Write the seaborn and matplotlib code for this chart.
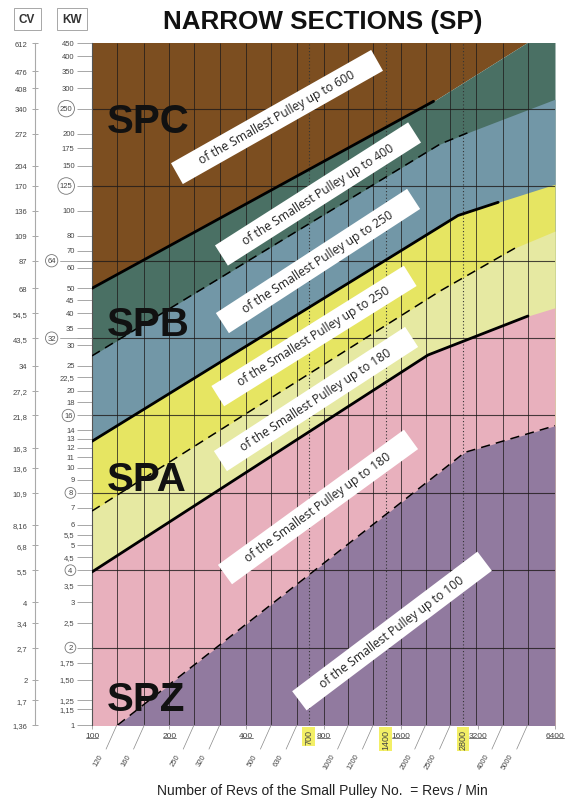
import numpy as np
import pandas as pd
import matplotlib
matplotlib.use("Agg")
import matplotlib.pyplot as plt
from matplotlib.patches import Rectangle
from matplotlib.transforms import Affine2D
from matplotlib.ticker import NullLocator
import seaborn as sns

sns.set_theme(style="white")
plt.rcParams["font.family"] = ["Liberation Sans", "DejaVu Sans"]

# ---- data (rpm of small pulley, kW) ----
# each boundary: points of the colour edge, n_line = points covered by the drawn line
spc_rpm = [100, 2150, 4950, 6400]
spc_kw = [50, 267, 450, 525]
spc_line = 2

spb_small_rpm = [100, 2280, 2980, 6400]
spb_small_kw = [27.3, 182, 203, 272]
spb_small_line = 3

spb_rpm = [100, 2680, 3840, 6400]
spb_kw = [12.7, 96, 108, 127]
spb_line = 3

spa_small_rpm = [100, 2280, 4550, 6400]
spa_small_kw = [6.8, 48.8, 72.4, 83.5]
spa_small_line = 3

spa_rpm = [100, 2045, 5020, 6400]
spa_kw = [3.94, 27.5, 39, 42]
spa_line = 3

spz_rpm = [100, 126, 2850, 6400]
spz_kw = [0.83, 1.0, 11.5, 14.6]
spz_line = 4

x_major = [100, 200, 400, 800, 1600, 3200, 6400]
x_grid = [100, 125, 160, 200, 250, 315, 400, 500, 630, 800, 1000, 1250,
          1600, 2000, 2500, 3150, 4000, 5000, 6400]
x_diag_pos = [125, 160, 250, 315, 500, 630, 1000, 1250, 2000, 2500, 4000, 5000]
x_diag_lab = ["120", "160", "250", "320", "500", "630", "1000", "1200",
              "2000", "2500", "4000", "5000"]
x_marked = [700, 1400, 2800]

kw_ticks = [450, 400, 350, 300, 250, 200, 175, 150, 125, 100, 80, 70, 64, 60,
            50, 45, 40, 35, 32, 30, 25, 22.5, 20, 18, 16, 14, 13, 12, 11, 10,
            9, 8, 7, 6, 5.5, 5, 4.5, 4, 3.5, 3, 2.5, 2, 1.75, 1.5, 1.25, 1.15, 1]
kw_labels = ["450", "400", "350", "300", "250", "200", "175", "150", "125",
             "100", "80", "70", "64", "60", "50", "45", "40", "35", "32", "30",
             "25", "22,5", "20", "18", "16", "14", "13", "12", "11", "10", "9",
             "8", "7", "6", "5,5", "5", "4,5", "4", "3,5", "3", "2,5", "2",
             "1,75", "1,50", "1,25", "1,15", "1"]
kw_circled = [250, 125, 16, 8, 4, 2]
kw_circled_far = [64, 32]
kw_grid = [2, 4, 8, 16, 32, 64, 125, 250]

cv_at_kw = [450, 350, 300, 250, 200, 150, 125, 100, 80, 64, 50, 40, 32, 25,
            20, 16, 12, 10, 8, 6, 5, 4, 3, 2.5, 2, 1.5, 1.25, 1]
cv_labels = ["612", "476", "408", "340", "272", "204", "170", "136", "109",
             "87", "68", "54,5", "43,5", "34", "27,2", "21,8", "16,3", "13,6",
             "10,9", "8,16", "6,8", "5,5", "4", "3,4", "2,7", "2", "1,7", "1,36"]

band_texts = ["of the Smallest Pulley up to 600", "of the Smallest Pulley up to 400",
              "of the Smallest Pulley up to 250", "of the Smallest Pulley up to 250",
              "of the Smallest Pulley up to 180", "of the Smallest Pulley up to 180",
              "of the Smallest Pulley up to 100"]
# centre (image px), angle, length
band_boxes = [(277, 118, 29.5, 230), (318, 195, 32.5, 229), (318, 262, 33, 228),
              (314, 337, 32, 227), (316, 400, 33, 228), (318, 508, 36, 230),
              (392, 632, 37, 232)]

sections = ["SPC", "SPB", "SPA", "SPZ"]
section_y = [122, 325, 480, 700]

colors = ["#7c4e20", "#4a7064", "#7297a7", "#e6e562", "#e6e9a2", "#e8b0bd", "#917a9f"]

W, H = 580, 804
fig = plt.figure(figsize=(W / 100, H / 100), dpi=100)
ax = fig.add_axes([92 / W, 1 - 726 / H, (555 - 92) / W, (726 - 44) / H])
ax.set_xscale("log")
ax.set_yscale("log")
ax.set_xlim(100, 6400)
ax.set_ylim(1, 450)

bounds = [(spc_rpm, spc_kw, spc_line, "-"),
          (spb_small_rpm, spb_small_kw, spb_small_line, "--"),
          (spb_rpm, spb_kw, spb_line, "-"),
          (spa_small_rpm, spa_small_kw, spa_small_line, "--"),
          (spa_rpm, spa_kw, spa_line, "-"),
          (spz_rpm, spz_kw, spz_line, "--")]

# colour bands, painted from top to bottom
ax.fill_between(spc_rpm, spc_kw, 2000, color=colors[0], lw=0, zorder=1)
for i, (xs, ys, n, ls) in enumerate(bounds):
    ax.fill_between(xs, 0.5, ys, color=colors[i + 1], lw=0, zorder=1)

# grid
ax.vlines(x_grid, 1, 450, colors="#1e1a1a", lw=0.7, alpha=0.75, zorder=2)
ax.vlines(x_marked, 1, 450, colors="#333333", lw=0.8, linestyles=(0, (1, 2)), zorder=2)
ax.hlines(kw_grid, 100, 6400, colors="#1e1a1a", lw=0.8, alpha=0.8, zorder=2)

# boundary lines
for xs, ys, n, ls in bounds:
    df = pd.DataFrame({"rpm": xs[:n], "kw": ys[:n]})
    if ls == "--":
        df = df[df["kw"] >= 1]
    sns.lineplot(data=df, x="rpm", y="kw", ax=ax, color="black", sort=False,
                 estimator=None, lw=2.0 if ls == "-" else 1.1, zorder=3)
    if ls == "--":
        ax.lines[-1].set_dashes([6, 4])

ax.set_xlabel("")
ax.set_ylabel("")
for s in ax.spines.values():
    s.set_visible(False)
ax.spines["left"].set_visible(True)
ax.spines["left"].set_color("#555555")
ax.spines["left"].set_linewidth(0.8)

# x ticks (underlined labels)
ax.set_xticks(x_major, [str(v) for v in x_major])
ax.xaxis.set_minor_locator(NullLocator())
ax.tick_params(axis="x", bottom=True, length=3, width=0.5, color="#888888",
               labelsize=6, labelcolor="#444444", pad=2)
xt = ax.get_xaxis_transform()
for v in x_major:
    f = 1.06 if v < 1000 else 1.08
    ax.plot([v / f, v * f], [-0.0195, -0.0195], transform=xt, clip_on=False,
            color="#444444", lw=0.5)

for v, lab in zip(x_diag_pos, x_diag_lab):
    ax.annotate(lab, xy=(v, 0), xycoords=xt, xytext=(-11, -21),
                textcoords="offset points", rotation=60, ha="right", va="center",
                rotation_mode="anchor", fontsize=5.5, color="#444444",
                arrowprops=dict(arrowstyle="-", color="#888888", lw=0.5,
                                relpos=(1, 1), shrinkA=0, shrinkB=0))
for v in x_marked:
    ax.annotate(str(v), xy=(v, 0), xycoords=xt, xytext=(0, -3),
                textcoords="offset points", rotation=90, ha="center", va="top",
                fontsize=6.5, color="#444444",
                bbox=dict(boxstyle="square,pad=0.2", fc="#f3ef66", ec="none"))

# KW axis
ax.set_yticks(kw_ticks, [""] * len(kw_ticks))
ax.yaxis.set_minor_locator(NullLocator())
ax.tick_params(axis="y", left=True, length=10.5, width=0.6, color="#999999")
yt = ax.get_yaxis_transform()
for v, lab in zip(kw_ticks, kw_labels):
    off = -12.5
    bb = None
    if v in kw_circled:
        bb = dict(boxstyle="circle,pad=0.25", fc="none", ec="#777777", lw=0.6)
        off = -14
    if v in kw_circled_far:
        bb = dict(boxstyle="circle,pad=0.25", fc="none", ec="#777777", lw=0.6)
        off = -26
        ax.plot([-32 / 463, 0], [v, v], transform=yt, clip_on=False,
                color="#999999", lw=0.6)
    ax.annotate(lab, xy=(0, v), xycoords=yt, xytext=(off, 0),
                textcoords="offset points", ha="right", va="center",
                fontsize=5.5, color="#444444", bbox=bb)

# CV axis
cax = fig.add_axes([35 / W, 1 - 726 / H, 0.0001, (726 - 44) / H])
cax.set_yscale("log")
cax.set_ylim(1, 450)
cax.set_xticks([])
for k, s in cax.spines.items():
    s.set_visible(k == "left")
cax.spines["left"].set_color("#aaaaaa")
cax.spines["left"].set_linewidth(0.8)
cax.set_yticks(cv_at_kw, cv_labels)
cax.yaxis.set_minor_locator(NullLocator())
cax.tick_params(axis="y", left=True, direction="inout", length=5, width=0.6,
                color="#999999", labelsize=5.5, labelcolor="#444444", pad=3)
cax.patch.set_visible(False)

# section names
for name, cy in zip(sections, section_y):
    ax.text(15 / 463, (726 - cy) / 682, name, transform=ax.transAxes,
            fontsize=29, weight="bold", color="#111111", ha="left",
            va="center", zorder=4)

# white labels along the bands
for txt, (cx, cy, ang, length) in zip(band_texts, band_boxes):
    X, Y = cx, H - cy
    rect = Rectangle((X - length / 2, Y - 12), length, 24, fc="white", ec="none",
                     transform=Affine2D().rotate_deg_around(X, Y, ang))
    fig.add_artist(rect)
    fig.text(X / W, Y / H, txt, rotation=ang, rotation_mode="anchor",
             ha="center", va="center", fontsize=8.7, color="#222222",
             family=["Open Sans", "DejaVu Sans"], zorder=5)

# headers
fig.text(323 / W, 1 - 22 / H, "NARROW SECTIONS (SP)", ha="center", va="center",
         fontsize=18.7, weight="bold", color="#111111")
for lab, cx in [("CV", 27), ("KW", 72)]:
    fig.text(cx / W, 1 - 20 / H, lab, ha="center", va="center", fontsize=8.5,
             weight="bold", color="#333333",
             bbox=dict(boxstyle="square,pad=0.45", fc="white", ec="#999999", lw=0.6))
fig.text(322 / W, 1 - 791 / H, "Number of Revs of the Small Pulley No.  = Revs / Min",
         ha="center", va="center", fontsize=10, color="#222222")

fig.savefig("out.png", dpi=100)
